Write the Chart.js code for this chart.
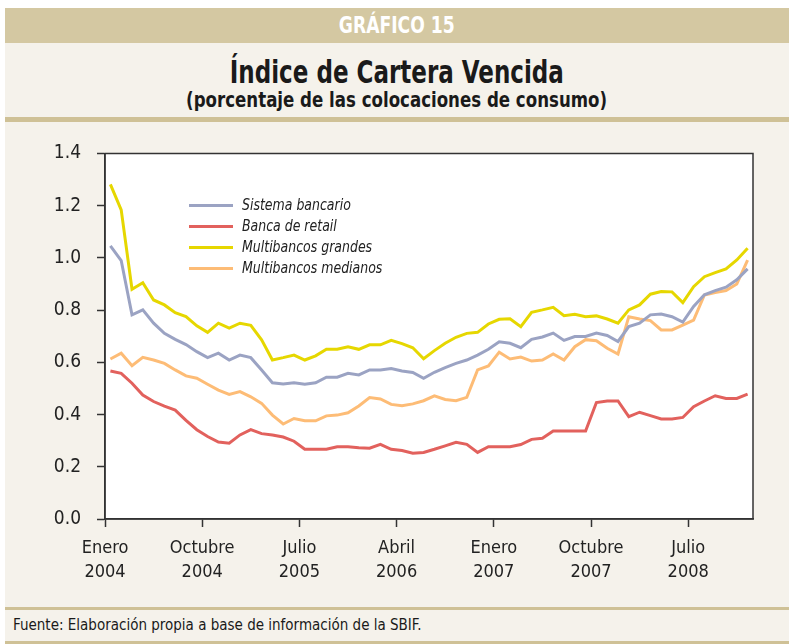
<!DOCTYPE html>
<html lang="es">
<head>
<meta charset="utf-8">
<title>Índice de Cartera Vencida</title>
<script src="https://cdn.jsdelivr.net/npm/chart.js@4.4.0/dist/chart.umd.min.js"></script>
<style>
  html, body { margin: 0; padding: 0; background: #fff; }
  #page {
    position: relative; width: 789px; height: 644px; overflow: hidden; background: #fff;
    font-family: "Liberation Sans Narrow", "DejaVu Sans Condensed", sans-serif; color: #1a1a1a;
  }
  #sheet { position: absolute; left: 5px; top: 8px; width: 784px; height: 636px; background: #f5f2eb; }
  .band { position: absolute; left: 5px; top: 8px; width: 784px; height: 35px; background: #d4c8a2;
          color: #fff; font-weight: 700; font-size: 23px; line-height: 35px; text-align: center; }
  .title { position: absolute; left: 5px; width: 784px; text-align: center; font-weight: 700; }
  .narrow { display: inline-block; transform-origin: 50% 50%; }
  #t1 { top: 53px; font-size: 32px; line-height: 38px; }
  #t2 { top: 87px; font-size: 22px; line-height: 26px; }
  .rule { position: absolute; left: 5px; width: 784px; background: #cfc196; }
  #chartBox { position: absolute; left: 0; top: 122px; width: 789px; height: 486px; }
  #fuente { position: absolute; left: 13px; top: 615px; font-size: 15px; line-height: 20px; }
</style>
</head>
<body>
<div id="page">
  <div id="sheet"></div>
  <div class="band"><span class="narrow" style="transform: scaleX(0.83);">GRÁFICO 15</span></div>
  <div class="title" id="t1"><span class="narrow" style="transform: scaleX(0.8);">Índice de Cartera Vencida</span></div>
  <div class="title" id="t2"><span class="narrow" style="transform: scaleX(0.84);">(porcentaje de las colocaciones de consumo)</span></div>
  <div class="rule" style="top:117px;height:5px;"></div>
  <div id="chartBox"><canvas id="grafico" width="789" height="486"></canvas></div>
  <div class="rule" style="top:607px;height:3px;"></div>
  <div id="fuente">Fuente: Elaboración propia a base de información de la SBIF.</div>
  <div class="rule" style="top:641px;height:3px;"></div>
</div>
<script>
// meses: enero 2004 a diciembre 2008
const meses = [
  'Ene 04','Feb 04','Mar 04','Abr 04','May 04','Jun 04','Jul 04','Ago 04','Sep 04','Oct 04','Nov 04','Dic 04',
  'Ene 05','Feb 05','Mar 05','Abr 05','May 05','Jun 05','Jul 05','Ago 05','Sep 05','Oct 05','Nov 05','Dic 05',
  'Ene 06','Feb 06','Mar 06','Abr 06','May 06','Jun 06','Jul 06','Ago 06','Sep 06','Oct 06','Nov 06','Dic 06',
  'Ene 07','Feb 07','Mar 07','Abr 07','May 07','Jun 07','Jul 07','Ago 07','Sep 07','Oct 07','Nov 07','Dic 07',
  'Ene 08','Feb 08','Mar 08','Abr 08','May 08','Jun 08','Jul 08','Ago 08','Sep 08','Oct 08','Nov 08','Dic 08'
];

const sistemaBancario = [
  1.046, 0.990, 0.782, 0.801, 0.750, 0.711, 0.688, 0.668, 0.641, 0.618, 0.635, 0.609,
  0.628, 0.618, 0.571, 0.522, 0.517, 0.522, 0.516, 0.522, 0.543, 0.543, 0.558, 0.552,
  0.571, 0.571, 0.576, 0.567, 0.561, 0.539, 0.562, 0.580, 0.596, 0.609, 0.628, 0.650,
  0.679, 0.673, 0.656, 0.688, 0.697, 0.712, 0.684, 0.699, 0.699, 0.712, 0.703, 0.680,
  0.737, 0.750, 0.782, 0.785, 0.775, 0.754, 0.814, 0.859, 0.875, 0.888, 0.916, 0.958
];
const bancaRetail = [
  0.567, 0.558, 0.520, 0.475, 0.450, 0.432, 0.417, 0.378, 0.342, 0.316, 0.295, 0.290,
  0.322, 0.342, 0.327, 0.322, 0.314, 0.298, 0.267, 0.267, 0.267, 0.277, 0.277, 0.273,
  0.271, 0.286, 0.267, 0.262, 0.252, 0.255, 0.267, 0.280, 0.294, 0.286, 0.255, 0.277,
  0.277, 0.277, 0.285, 0.305, 0.309, 0.337, 0.337, 0.337, 0.337, 0.446, 0.452, 0.452,
  0.392, 0.409, 0.396, 0.383, 0.383, 0.389, 0.430, 0.452, 0.472, 0.462, 0.462, 0.478
];
const multibancosGrandes = [
  1.282, 1.184, 0.880, 0.905, 0.839, 0.820, 0.790, 0.775, 0.740, 0.715, 0.750, 0.731,
  0.750, 0.742, 0.686, 0.609, 0.618, 0.628, 0.609, 0.625, 0.650, 0.650, 0.660, 0.650,
  0.667, 0.667, 0.684, 0.672, 0.656, 0.614, 0.645, 0.673, 0.696, 0.711, 0.715, 0.747,
  0.765, 0.767, 0.737, 0.792, 0.801, 0.811, 0.779, 0.784, 0.775, 0.778, 0.766, 0.750,
  0.801, 0.820, 0.861, 0.871, 0.870, 0.829, 0.890, 0.928, 0.944, 0.958, 0.992, 1.037
];
const multibancosMedianos = [
  0.613, 0.635, 0.587, 0.619, 0.609, 0.596, 0.571, 0.548, 0.539, 0.516, 0.494, 0.477,
  0.488, 0.468, 0.443, 0.398, 0.364, 0.385, 0.376, 0.376, 0.395, 0.398, 0.407, 0.433,
  0.465, 0.460, 0.439, 0.434, 0.441, 0.453, 0.472, 0.458, 0.453, 0.466, 0.571, 0.586,
  0.639, 0.613, 0.620, 0.605, 0.609, 0.632, 0.609, 0.660, 0.687, 0.683, 0.654, 0.632,
  0.775, 0.766, 0.760, 0.724, 0.724, 0.743, 0.762, 0.858, 0.867, 0.875, 0.900, 0.992
];

// marcas del eje x (índice del mes) y sus etiquetas
const marcasX = [0, 9, 18, 27, 36, 45, 54];
const etiquetasX = [
  ['Enero', '2004'], ['Octubre', '2004'], ['Julio', '2005'], ['Abril', '2006'],
  ['Enero', '2007'], ['Octubre', '2007'], ['Julio', '2008']
];
const ticksY = [0, 0.2, 0.4, 0.6, 0.8, 1.0, 1.2, 1.4];

const fuente = '"Liberation Sans Narrow", "DejaVu Sans Condensed", sans-serif';
const colorEje = '#333';

const aPuntos = (serie) => serie.map((v, i) => ({ x: i, y: v }));

// fondo blanco del área, marco y leyenda dentro del gráfico
const marcoYLeyenda = {
  id: 'marcoYLeyenda',
  beforeDraw(chart) {
    const { ctx, chartArea: a } = chart;
    ctx.save();
    ctx.fillStyle = '#fff';
    ctx.fillRect(a.left, a.top, a.right - a.left, a.bottom - a.top);
    ctx.restore();
  },
  afterDraw(chart) {
    const { ctx, chartArea: a } = chart;
    ctx.save();
    ctx.strokeStyle = colorEje;
    ctx.lineWidth = 1.5;
    ctx.strokeRect(a.left, a.top, a.right - a.left, a.bottom - a.top);

    ctx.font = 'italic 16px ' + fuente;
    ctx.textBaseline = 'middle';
    chart.data.datasets.forEach((ds, i) => {
      const y = a.top + 52 + i * 21;
      ctx.strokeStyle = ds.borderColor;
      ctx.lineWidth = 3;
      ctx.beginPath();
      ctx.moveTo(a.left + 84, y);
      ctx.lineTo(a.left + 128, y);
      ctx.stroke();
      // texto algo más estrecho, como el original
      ctx.save();
      ctx.translate(a.left + 137, y);
      ctx.scale(0.87, 1);
      ctx.fillStyle = '#222';
      ctx.fillText(ds.label, 0, 0);
      ctx.restore();
    });
    ctx.restore();
  }
};

const serie = (label, data, color) => ({
  label, data: aPuntos(data), borderColor: color, backgroundColor: color,
  borderWidth: 3, pointRadius: 0, tension: 0, fill: false
});

new Chart(document.getElementById('grafico'), {
  type: 'line',
  data: {
    datasets: [
      serie('Sistema bancario', sistemaBancario, '#9ba3c3'),
      serie('Banca de retail', bancaRetail, '#e2615d'),
      serie('Multibancos grandes', multibancosGrandes, '#e6d700'),
      serie('Multibancos medianos', multibancosMedianos, '#fdbc76')
    ]
  },
  options: {
    responsive: false,
    animation: false,
    devicePixelRatio: 1,
    layout: { padding: { top: 31.5, right: 36, bottom: 0, left: 0 } },
    plugins: { legend: { display: false }, tooltip: { enabled: false } },
    scales: {
      x: {
        type: 'linear',
        min: -0.5,
        max: meses.length - 0.5,
        afterBuildTicks: (scale) => { scale.ticks = marcasX.map(m => ({ value: m - 0.5 })); },
        afterFit: (scale) => { scale.height = 89; },
        ticks: {
          autoSkip: false, maxRotation: 0, minRotation: 0, padding: 10, color: '#222',
          font: { family: fuente, size: 18, lineHeight: 1.3 },
          callback: (value, index) => etiquetasX[index]
        },
        grid: { drawOnChartArea: false, tickLength: 8, color: colorEje, tickWidth: 1.5 },
        border: { color: colorEje, width: 1.5 }
      },
      y: {
        min: 0,
        max: 1.4,
        afterBuildTicks: (scale) => { scale.ticks = ticksY.map(v => ({ value: v })); },
        afterFit: (scale) => { scale.width = 105; },
        ticks: {
          padding: 16, color: '#222',
          font: { family: fuente, size: 19 },
          callback: (value) => value.toFixed(1)
        },
        grid: { drawOnChartArea: false, tickLength: 8, color: colorEje, tickWidth: 1.5 },
        border: { color: colorEje, width: 1.5 }
      }
    }
  },
  plugins: [marcoYLeyenda]
});
</script>
</body>
</html>
